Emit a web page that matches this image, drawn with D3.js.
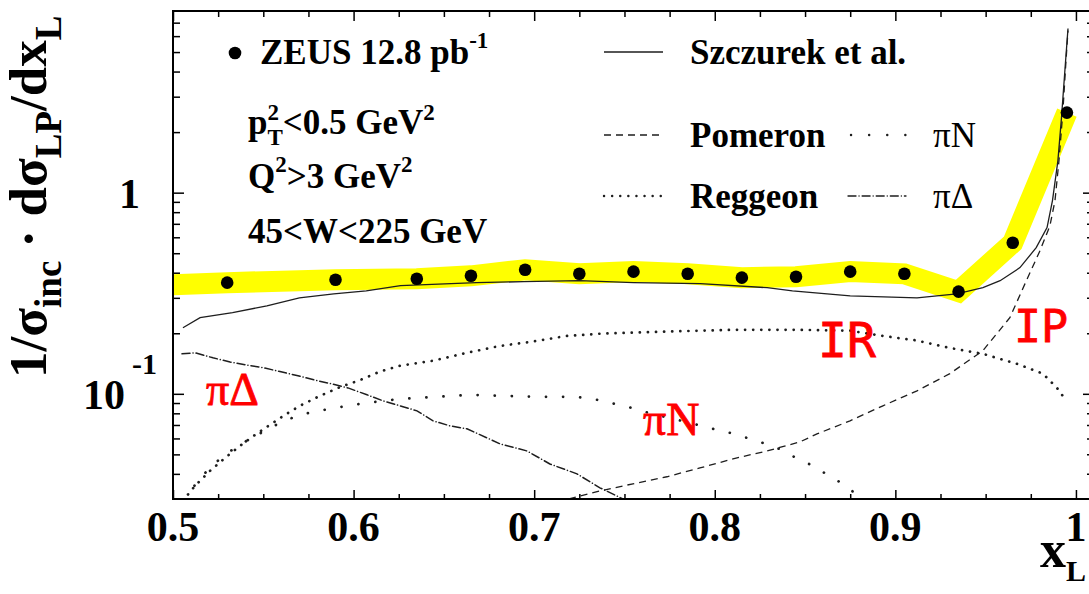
<!DOCTYPE html>
<html>
<head>
<meta charset="utf-8">
<script src="https://cdn.jsdelivr.net/npm/d3@7"></script>
<style>
  body { margin: 0; background: #fff; }
  svg { display: block; }
  .serif { font-family: "Liberation Serif", "Times New Roman", serif; }
</style>
</head>
<body>
<svg id="chart" width="1089" height="594"></svg>
<script>
// ZEUS data points (x_L, 1/sigma dsigma/dx_L)
var dataX = [0.53, 0.59, 0.635, 0.665, 0.695, 0.725, 0.755, 0.785, 0.815, 0.845, 0.875, 0.905, 0.935, 0.965, 0.995];
var dataY = [0.357, 0.369, 0.373, 0.386, 0.414, 0.395, 0.405, 0.395, 0.378, 0.382, 0.405, 0.395, 0.322, 0.564, 2.50];

// yellow systematic band (centre line)
var bandX = [0.5, 0.53, 0.59, 0.635, 0.665, 0.695, 0.725, 0.755, 0.785, 0.815, 0.845, 0.875, 0.905, 0.935, 0.965, 0.995];
var bandY = [0.348, 0.357, 0.369, 0.373, 0.386, 0.414, 0.395, 0.405, 0.395, 0.378, 0.382, 0.405, 0.395, 0.322, 0.564, 2.50];

// Szczurek et al. total
var totX = [0.5055, 0.515, 0.533, 0.552, 0.570, 0.589, 0.607, 0.626, 0.668, 0.694, 0.725, 0.755, 0.792, 0.829, 0.843, 0.875, 0.912, 0.934, 0.9485, 0.958, 0.969, 0.978, 0.984, 0.987, 0.990, 0.992, 0.994, 0.9956];
var totY = [0.213, 0.239, 0.253, 0.274, 0.300, 0.314, 0.325, 0.345, 0.357, 0.361, 0.365, 0.357, 0.353, 0.337, 0.325, 0.307, 0.300, 0.314, 0.337, 0.365, 0.424, 0.533, 0.670, 0.913, 1.44, 2.36, 4.19, 6.55];

// Pomeron
var pomX = [0.7143, 0.7171, 0.7364, 0.7547, 0.7735, 0.7918, 0.8101, 0.8289, 0.8472, 0.8566, 0.8749, 0.8931, 0.912, 0.9302, 0.9485, 0.9634, 0.9718, 0.9801, 0.9856, 0.9884, 0.9906, 0.9928, 0.9945, 0.9956];
var pomY = [0.0277, 0.0297, 0.0329, 0.0357, 0.0387, 0.0428, 0.0475, 0.0520, 0.0577, 0.0632, 0.0734, 0.0872, 0.1035, 0.126, 0.164, 0.239, 0.353, 0.515, 0.685, 0.913, 1.44, 2.56, 4.54, 6.40];

// Reggeon
var regX = [0.5055, 0.5122, 0.5205, 0.5288, 0.5371, 0.5454, 0.5537, 0.562, 0.5703, 0.5814, 0.5925, 0.6035, 0.6146, 0.6257, 0.644, 0.6628, 0.6811, 0.6993, 0.7182, 0.7364, 0.7735, 0.8101, 0.8472, 0.8749, 0.8931, 0.912, 0.9302, 0.9485, 0.9673, 0.9817, 0.9895, 0.9939];
var regY = [0.0294, 0.0349, 0.0414, 0.0480, 0.0551, 0.0625, 0.0701, 0.0786, 0.0872, 0.0977, 0.108, 0.117, 0.129, 0.138, 0.146, 0.160, 0.173, 0.182, 0.194, 0.199, 0.204, 0.208, 0.208, 0.206, 0.194, 0.184, 0.169, 0.158, 0.141, 0.126, 0.107, 0.0944];

// pi N
var piNX = [0.5066, 0.5122, 0.5188, 0.526, 0.5343, 0.5426, 0.5509, 0.5592, 0.5687, 0.5775, 0.5869, 0.5969, 0.6074, 0.6257, 0.6451, 0.6645, 0.6827, 0.7032, 0.7226, 0.7326, 0.742, 0.7519, 0.7613, 0.7724, 0.7863, 0.799, 0.8084, 0.8178, 0.8267, 0.8355, 0.8439, 0.8533, 0.8616, 0.8699, 0.8782, 0.8815];
var piNY = [0.0297, 0.0353, 0.0414, 0.0475, 0.0539, 0.0597, 0.0655, 0.0717, 0.0777, 0.0814, 0.0842, 0.0872, 0.0902, 0.0944, 0.0966, 0.0989, 0.0977, 0.0966, 0.0966, 0.0944, 0.0902, 0.0862, 0.0814, 0.0768, 0.0717, 0.0670, 0.0640, 0.0604, 0.0570, 0.0533, 0.0486, 0.0443, 0.0400, 0.0361, 0.0318, 0.0297];

// pi Delta
var piDX = [0.505, 0.5122, 0.5221, 0.5316, 0.541, 0.5498, 0.5592, 0.5692, 0.5786, 0.588, 0.5969, 0.6074, 0.6163, 0.6257, 0.6351, 0.644, 0.6534, 0.6628, 0.6811, 0.696, 0.7087, 0.7237, 0.7364, 0.7492, 0.7586];
var piDY = [0.158, 0.160, 0.151, 0.144, 0.139, 0.135, 0.129, 0.123, 0.117, 0.112, 0.107, 0.0989, 0.0923, 0.0872, 0.0823, 0.0734, 0.0693, 0.0670, 0.0564, 0.0520, 0.0448, 0.0400, 0.0341, 0.0300, 0.0277];

// ticks
var xMajor = [0.5, 0.6, 0.7, 0.8, 0.9, 1.0];
var xLabels = ["0.5", "0.6", "0.7", "0.8", "0.9", "1"];
var xMinor = [0.525, 0.55, 0.575, 0.625, 0.65, 0.675, 0.725, 0.75, 0.775, 0.825, 0.85, 0.875, 0.925, 0.95, 0.975];
var yMajor = [0.1, 1];
var yMinor = [0.04, 0.05, 0.06, 0.07, 0.08, 0.09, 0.2, 0.3, 0.4, 0.5, 0.6, 0.7, 0.8, 0.9, 2, 3, 4, 5, 6, 7];

var margin = {top: 11, left: 173},
    width = 921,
    height = 488;

var svg = d3.select("#chart");
var g = svg.append("g")
    .attr("transform", "translate(" + margin.left + "," + margin.top + ")");

var x = d3.scaleLinear().domain([0.5, 1.01]).range([0, width]);
var y = d3.scaleLog().domain([0.03, 8]).range([height, 0]);

svg.append("defs").append("clipPath").attr("id", "clip")
  .append("rect").attr("width", width).attr("height", height);

var plot = g.append("g").attr("clip-path", "url(#clip)");

function pairs(xs, ys){ return xs.map(function(v, i){ return [v, ys[i]]; }); }
var line = d3.line().x(function(d){ return x(d[0]); }).y(function(d){ return y(d[1]); });

// yellow band
plot.append("path")
  .attr("d", line(pairs(bandX, bandY)))
  .attr("fill", "none")
  .attr("stroke", "#ffff00")
  .attr("stroke-width", 21)
  .attr("stroke-linejoin", "miter");

// theory curves
var curves = [
  {xs: totX, ys: totY, dash: null, w: 1.3, cap: "butt"},
  {xs: pomX, ys: pomY, dash: "7,5", w: 1.3, cap: "butt"},
  {xs: regX, ys: regY, dash: "0.1,8", w: 2.7, cap: "round"},
  {xs: piNX, ys: piNY, dash: "0.1,17", w: 2.7, cap: "round"},
  {xs: piDX, ys: piDY, dash: "8,3,0.1,3", w: 1.5, cap: "round"}
];
curves.forEach(function(c){
  plot.append("path")
    .attr("d", line(pairs(c.xs, c.ys)))
    .attr("fill", "none")
    .attr("stroke", "#1e1e1e")
    .attr("stroke-width", c.w)
    .attr("stroke-linecap", c.cap)
    .attr("stroke-dasharray", c.dash);
});

// data points
plot.selectAll("circle.pt")
  .data(pairs(dataX, dataY))
  .enter().append("circle")
    .attr("class", "pt")
    .attr("cx", function(d){ return x(d[0]); })
    .attr("cy", function(d){ return y(d[1]); })
    .attr("r", 6.3)
    .attr("fill", "#000");

// axes: ticks pointing inwards on all four sides
function ticks(axisFn, scale, vals, size, tr){
  g.append("g")
    .attr("transform", tr)
    .call(axisFn(scale).tickValues(vals).tickSize(size).tickSizeOuter(0).tickFormat(""))
    .call(function(s){ s.select(".domain").remove(); })
    .selectAll("line").attr("stroke", "#000").attr("stroke-width", 1.5);
}
ticks(d3.axisTop, x, xMajor, 9, "translate(0," + height + ")");
ticks(d3.axisTop, x, xMinor, 5, "translate(0," + height + ")");
ticks(d3.axisBottom, x, xMajor, 10, "translate(0,0)");
ticks(d3.axisBottom, x, xMinor, 6, "translate(0,0)");
ticks(d3.axisRight, y, yMajor, 11, "translate(0,0)");
ticks(d3.axisRight, y, yMinor, 7, "translate(0,0)");
ticks(d3.axisLeft, y, yMajor, 11, "translate(" + width + ",0)");
ticks(d3.axisLeft, y, yMinor, 7, "translate(" + width + ",0)");

// frame
g.append("rect")
  .attr("width", width).attr("height", height)
  .attr("fill", "none").attr("stroke", "#000").attr("stroke-width", 2);

// rich text helper: parts = [{t, fs, dy, stack}]
function rich(parent, x0, y0, parts, weight, anchor){
  var t = parent.append("text").attr("class", "serif")
    .attr("font-weight", weight || "bold").attr("fill", "#000");
  var cx = x0, prevStart = x0;
  parts.forEach(function(p){
    var start = p.stack ? prevStart : cx;
    var ts = t.append("tspan").attr("x", start).attr("y", y0 + (p.dy || 0))
      .style("font-size", p.fs + "px").text(p.t);
    var w = ts.node().getComputedTextLength();
    cx = p.stack ? Math.max(cx, start + w) : start + w;
    prevStart = start;
  });
  if (anchor === "end") {
    var shift = cx - x0;
    t.selectAll("tspan").attr("x", function(){ return +d3.select(this).attr("x") - shift; });
  } else if (anchor === "middle") {
    var half = (cx - x0) / 2;
    t.selectAll("tspan").attr("x", function(){ return +d3.select(this).attr("x") - half; });
  }
  return t;
}

// x tick labels
xMajor.forEach(function(v, i){
  rich(g, x(v), height + 42, [{t: xLabels[i], fs: 42}], "bold", "middle");
});
// y tick labels
rich(g, -33, y(1) + 15, [{t: "1", fs: 42}], "bold", "end");
rich(g, -48, y(0.1) + 15, [{t: "10", fs: 42}], "bold", "end");
rich(g, -41, y(0.1) - 20, [{t: "-1", fs: 30}], "bold");

// axis titles
rich(svg, 1040, 567, [{t: "x", fs: 52}, {t: "L", fs: 30, dy: 14}]);
var yt = svg.append("g").attr("transform", "translate(46,378) rotate(-90)");
rich(yt, 0, 0, [
  {t: "1/σ", fs: 53}, {t: "inc", fs: 37, dy: 15},
  {t: " · dσ", fs: 53}, {t: "LP", fs: 37, dy: 15},
  {t: "/dx", fs: 53}, {t: "L", fs: 37, dy: 15}
]);

// legend, left block
svg.append("circle").attr("cx", 235).attr("cy", 53).attr("r", 6.3).attr("fill", "#000");
rich(svg, 260, 64, [{t: "ZEUS 12.8 pb", fs: 35}, {t: "-1", fs: 23, dy: -16}]);
rich(svg, 248, 134, [{t: "p", fs: 35}, {t: "2", fs: 23, dy: -14}, {t: "T", fs: 23, dy: 11, stack: true},
  {t: "<0.5 GeV", fs: 35}, {t: "2", fs: 23, dy: -14}]);
rich(svg, 248, 188, [{t: "Q", fs: 35}, {t: "2", fs: 23, dy: -16}, {t: ">3 GeV", fs: 35}, {t: "2", fs: 23, dy: -16}]);
rich(svg, 248, 243, [{t: "45<W<225 GeV", fs: 35}]);

// legend, right block
var legLines = [
  {y: 52, dash: null, w: 1.3, cap: "butt"},
  {y: 135, dash: "7,5", w: 1.3, cap: "butt"},
  {y: 196, dash: "0.1,8", w: 2.4, cap: "round"}
];
legLines.forEach(function(l){
  svg.append("line").attr("x1", 604).attr("x2", 663).attr("y1", l.y).attr("y2", l.y)
    .attr("stroke", "#1e1e1e").attr("stroke-width", l.w)
    .attr("stroke-linecap", l.cap).attr("stroke-dasharray", l.dash);
});
svg.append("line").attr("x1", 851).attr("x2", 906).attr("y1", 135).attr("y2", 135)
  .attr("stroke", "#1e1e1e").attr("stroke-width", 2.4)
  .attr("stroke-linecap", "round").attr("stroke-dasharray", "0.1,18");
svg.append("line").attr("x1", 848).attr("x2", 906).attr("y1", 196).attr("y2", 196)
  .attr("stroke", "#1e1e1e").attr("stroke-width", 1.3)
  .attr("stroke-linecap", "round").attr("stroke-dasharray", "8,3,0.1,3");
rich(svg, 690, 64, [{t: "Szczurek et al.", fs: 35}]);
rich(svg, 690, 147, [{t: "Pomeron", fs: 35}]);
rich(svg, 690, 208, [{t: "Reggeon", fs: 35}]);
rich(svg, 933, 147, [{t: "πN", fs: 35}], "normal");
rich(svg, 933, 208, [{t: "πΔ", fs: 35}], "normal");

// red annotations
function red(txt, px, py, fs, fam){
  svg.append("text").attr("x", px).attr("y", py)
    .style("font-family", fam).style("font-size", fs + "px")
    .attr("fill", "#ff0000").attr("stroke", "#ff0000").attr("stroke-width", 0.8)
    .text(txt);
}
red("πΔ", 206, 405, 46, '"Liberation Serif", serif');
red("πN", 643, 435, 46, '"Liberation Serif", serif');
red("IR", 818, 357, 48, '"DejaVu Sans Mono", monospace');
red("IP", 1014, 342, 45, '"DejaVu Sans Mono", monospace');
</script>
</body>
</html>
